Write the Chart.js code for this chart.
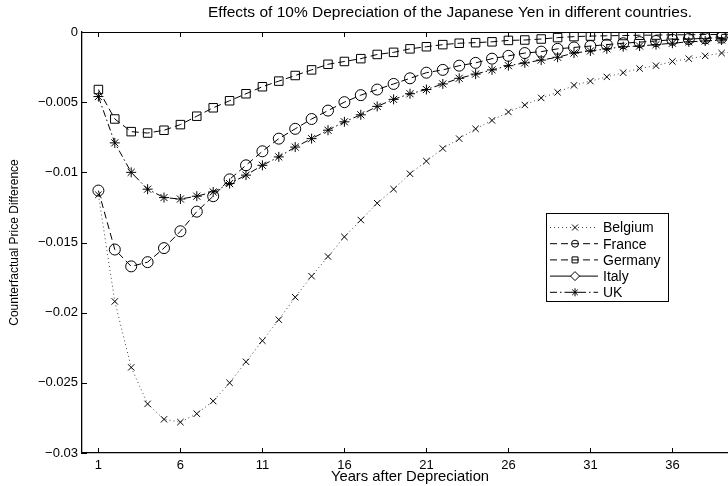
<!DOCTYPE html>
<html lang="en">
<head>
  <meta charset="utf-8" />
  <title>Yen depreciation</title>
  <script src="https://cdn.jsdelivr.net/npm/chart.js@4.4.1/dist/chart.umd.min.js"></script>
  <style>
    html, body { margin: 0; padding: 0; overflow: hidden; background: #fff; }
    #wrap { width: 900px; height: 486px; position: relative; }
  </style>
</head>
<body>
  <div id="wrap"><canvas id="chart"></canvas></div>
  <script>
    // years after the depreciation (one point per year)
    const years = [];
    for (let t = 1; t <= 40; t++) years.push(t);

    // values
    const belgium = [-0.0116, -0.0192, -0.0239, -0.0265, -0.0276, -0.0278, -0.0272, -0.0263, -0.0250, -0.0235,
      -0.0220, -0.0205, -0.0189, -0.0174, -0.0160, -0.0146, -0.0134, -0.0122, -0.0112, -0.0101,
      -0.0092, -0.0083, -0.0076, -0.0069, -0.0063, -0.0057, -0.0052, -0.0047, -0.0043, -0.0038,
      -0.0035, -0.0032, -0.0029, -0.0026, -0.0024, -0.0021, -0.0019, -0.0017, -0.0015, -0.0014];
    const france = [-0.0113, -0.0155, -0.0167, -0.0164, -0.0154, -0.0142, -0.0128, -0.0117, -0.0105, -0.0095,
      -0.0085, -0.0076, -0.0069, -0.0062, -0.0056, -0.0050, -0.0045, -0.0041, -0.0037, -0.0033,
      -0.0029, -0.0027, -0.0024, -0.0022, -0.0019, -0.0017, -0.0015, -0.0014, -0.0012, -0.0011,
      -0.0010, -0.0009, -0.0008, -0.00072, -0.00064, -0.00055, -0.0005, -0.00045, -0.0004, -0.00037];
    const germany = [-0.0041, -0.0062, -0.0071, -0.0072, -0.0070, -0.0066, -0.0060, -0.0054, -0.0049, -0.0044,
      -0.0039, -0.0035, -0.0031, -0.0027, -0.0023, -0.0021, -0.0019, -0.0016, -0.00145, -0.0012,
      -0.00105, -0.0009, -0.0008, -0.00076, -0.0007, -0.0006, -0.00057, -0.0005, -0.0004, -0.00033,
      -0.00029, -0.00027, -0.00025, -0.00023, -0.00022, -0.0002, -0.0002, -0.00018, -0.00017, -0.00016];
    // Italy is in the legend but no Italy curve can be seen in the figure
    const italy = years.map(() => null);
    const uk = [-0.0046, -0.0079, -0.0100, -0.0112, -0.0118, -0.0119, -0.0117, -0.0114, -0.0108, -0.0102,
      -0.0095, -0.0089, -0.0082, -0.0076, -0.0070, -0.0064, -0.0059, -0.0053, -0.0048, -0.0044,
      -0.0041, -0.0037, -0.0033, -0.0030, -0.0027, -0.0024, -0.0022, -0.0020, -0.0018, -0.0015,
      -0.00135, -0.0012, -0.00105, -0.0010, -0.0009, -0.0008, -0.0007, -0.00064, -0.00057, -0.0005];

    const xTicks = [1, 6, 11, 16, 21, 26, 31, 36];
    const yTicks = [-0.03, -0.025, -0.02, -0.015, -0.01, -0.005, 0];
    const yTickLabels = ['\u22120.03', '\u22120.025', '\u22120.02', '\u22120.015', '\u22120.01', '\u22120.005', '0'];

    const FONT = 'Liberation Sans, Arial, Helvetica, sans-serif';

    function series(label, values, dash, style, radius, lineColor) {
      return {
        label: label,
        data: values.map((v, i) => ({ x: years[i], y: v })),
        borderColor: lineColor || '#000',
        borderWidth: 1,
        borderDash: dash,
        pointStyle: style,
        pointRadius: radius,
        pointBorderColor: '#000',
        pointBackgroundColor: 'rgba(0,0,0,0)',
        pointBorderWidth: 1,
        tension: 0,
        spanGaps: false
      };
    }

    // markers for the legend, drawn by hand
    function drawMarker(ctx, style, x, y, r) {
      ctx.beginPath();
      if (style === 'circle') {
        ctx.arc(x, y, r, 0, Math.PI * 2);
      } else if (style === 'rect') {
        ctx.rect(x - r, y - r, 2 * r, 2 * r);
      } else if (style === 'rectRot') {
        ctx.moveTo(x, y - r); ctx.lineTo(x + r, y); ctx.lineTo(x, y + r); ctx.lineTo(x - r, y); ctx.closePath();
      } else if (style === 'crossRot') {
        ctx.moveTo(x - r, y - r); ctx.lineTo(x + r, y + r);
        ctx.moveTo(x - r, y + r); ctx.lineTo(x + r, y - r);
      } else if (style === 'star') {
        ctx.moveTo(x - r, y); ctx.lineTo(x + r, y);
        ctx.moveTo(x, y - r); ctx.lineTo(x, y + r);
        const d = r * 0.7;
        ctx.moveTo(x - d, y - d); ctx.lineTo(x + d, y + d);
        ctx.moveTo(x - d, y + d); ctx.lineTo(x + d, y - d);
      }
      ctx.stroke();
    }

    const legendSizes = { circle: 3.5, rect: 3, rectRot: 4.5, crossRot: 3, star: 4 };

    const boxPlugin = {
      id: 'matlabBox',
      afterDatasetsDraw(chart) {
        const ctx = chart.ctx;
        const ca = chart.chartArea;
        const xs = chart.scales.x, ys = chart.scales.y;
        ctx.save();
        ctx.strokeStyle = '#000';
        ctx.lineWidth = 1;
        ctx.setLineDash([]);
        // top and right edges of the box
        ctx.beginPath();
        ctx.moveTo(ca.left, ca.top + 0.5);
        ctx.lineTo(ca.right, ca.top + 0.5);
        ctx.lineTo(ca.right, ca.bottom);
        ctx.stroke();
        // ticks pointing inwards
        ctx.beginPath();
        xTicks.forEach(v => {
          const px = Math.round(xs.getPixelForValue(v)) + 0.5;
          ctx.moveTo(px, ca.bottom); ctx.lineTo(px, ca.bottom - 5);
          ctx.moveTo(px, ca.top); ctx.lineTo(px, ca.top + 5);
        });
        yTicks.forEach(v => {
          const py = Math.round(ys.getPixelForValue(v)) + 0.5;
          ctx.moveTo(ca.left, py); ctx.lineTo(ca.left + 5, py);
          ctx.moveTo(ca.right, py); ctx.lineTo(ca.right - 5, py);
        });
        ctx.stroke();

        // legend box inside the axes
        const bx = ca.left + 464, by = ca.top + 181, bw = 122, bh = 88;
        ctx.fillStyle = '#fff';
        ctx.fillRect(bx, by, bw, bh);
        ctx.strokeRect(bx + 0.5, by + 0.5, bw, bh);
        ctx.font = '14px ' + FONT;
        ctx.textBaseline = 'middle';
        chart.data.datasets.forEach((ds, i) => {
          const y = by + 14.5 + i * 16.2;
          ctx.strokeStyle = ds.borderColor;
          ctx.setLineDash(ds.borderDash || []);
          ctx.beginPath();
          ctx.moveTo(bx + 4, y); ctx.lineTo(bx + 52, y);
          ctx.stroke();
          ctx.setLineDash([]);
          ctx.strokeStyle = '#000';
          if (ds.pointStyle === 'rectRot') {
            const r = legendSizes.rectRot;
            ctx.fillStyle = '#fff';
            ctx.beginPath();
            ctx.moveTo(bx + 29, y - r); ctx.lineTo(bx + 29 + r, y); ctx.lineTo(bx + 29, y + r); ctx.lineTo(bx + 29 - r, y); ctx.closePath();
            ctx.fill();
          }
          drawMarker(ctx, ds.pointStyle, bx + 29, y, legendSizes[ds.pointStyle]);
          ctx.fillStyle = '#000';
          ctx.fillText(ds.label, bx + 57, y + 1);
        });
        ctx.restore();
      }
    };

    new Chart(document.getElementById('chart'), {
      type: 'line',
      data: {
        datasets: [
          series('Belgium', belgium, [1, 3], 'crossRot', 4.5, '#444'),
          series('France', france, [7, 4], 'circle', 5.5),
          series('Germany', germany, [7, 4], 'rect', 6),
          series('Italy', italy, [], 'rectRot', 5),
          series('UK', uk, [7, 3, 1.5, 3], 'star', 5)
        ]
      },
      options: {
        responsive: true,
        maintainAspectRatio: false,
        animation: false,
        layout: { padding: 0 },
        plugins: {
          legend: { display: false },
          tooltip: { enabled: false },
          title: {
            display: true,
            text: 'Effects of 10% Depreciation of the Japanese Yen in different countries.',
            color: '#000',
            font: { family: FONT, size: 15.5, weight: 'normal' },
            padding: { top: 3, bottom: 10.4 }
          }
        },
        scales: {
          x: {
            type: 'linear',
            min: 0,
            max: 40,
            afterFit: s => { s.height = 33; },
            afterBuildTicks: s => { s.ticks = xTicks.map(v => ({ value: v })); },
            ticks: {
              autoSkip: false, maxRotation: 0, padding: 5, color: '#000',
              font: { family: FONT, size: 13 },
              callback: v => String(v)
            },
            grid: { display: true, drawOnChartArea: false, drawTicks: false },
            border: { display: true, color: '#000', width: 1.3 },
            title: {
              display: true, text: 'Years after Depreciation', color: '#000',
              font: { family: FONT, size: 14.8 }, padding: { top: 0, bottom: 0.5 }
            }
          },
          y: {
            type: 'linear',
            min: -0.03,
            max: 0,
            afterFit: s => { s.width = 82; },
            afterBuildTicks: s => { s.ticks = yTicks.map(v => ({ value: v })); },
            ticks: {
              padding: 4, color: '#000',
              font: { family: FONT, size: 13 },
              callback: v => yTickLabels[yTicks.findIndex(t => Math.abs(t - v) < 1e-9)]
            },
            grid: { display: true, drawOnChartArea: false, drawTicks: false },
            border: { display: true, color: '#000', width: 1.3 },
            title: {
              display: true, text: 'Counterfactual Price Difference', color: '#000',
              font: { family: FONT, size: 12 }, padding: { top: 7, bottom: 0 }
            }
          },
          // empty strip right of the axes, which the screenshot crops away
          y2: {
            position: 'right',
            display: true,
            afterFit: s => { s.width = 162; },
            ticks: { display: false },
            grid: { display: false },
            border: { display: false }
          }
        }
      },
      plugins: [boxPlugin]
    });
  </script>
</body>
</html>
